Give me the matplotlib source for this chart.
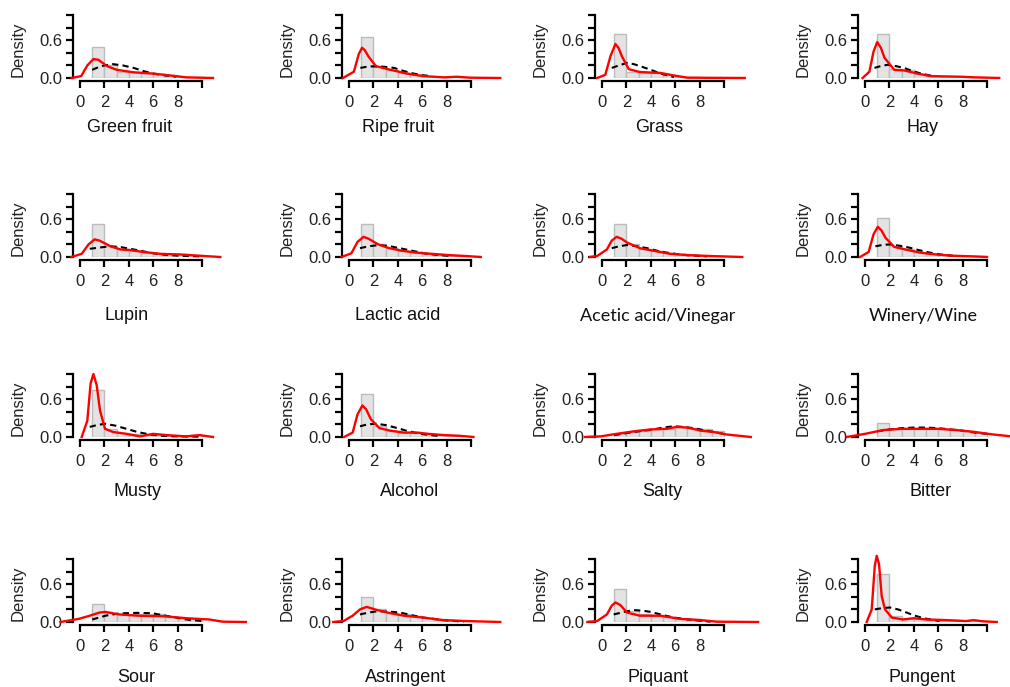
import numpy as np
import matplotlib
matplotlib.use("Agg")
import matplotlib.pyplot as plt

plt.rcParams['font.family'] = ['Liberation Sans', 'DejaVu Sans']

# panel order: row by row
names = ["Green fruit", "Ripe fruit", "Grass", "Hay",
         "Lupin", "Lactic acid", "Acetic acid/Vinegar", "Winery/Wine",
         "Musty", "Alcohol", "Salty", "Bitter",
         "Sour", "Astringent", "Piquant", "Pungent"]

# histogram bin edges (score 1..10) and heights per panel
bin_edges = [1, 2, 3, 4, 5, 6, 7, 8, 9, 10]
hist_h = [
    [0.49, 0.20, 0.10, 0.09, 0.08, 0.06, 0.04, 0.02, 0.01],
    [0.65, 0.18, 0.12, 0.08, 0.05, 0.03, 0.02, 0.01, 0.02],
    [0.70, 0.10, 0.08, 0.08, 0.04, 0.02, 0.01, 0.005, 0.0],
    [0.70, 0.15, 0.12, 0.06, 0.03, 0.02, 0.02, 0.02, 0.01],
    [0.53, 0.17, 0.12, 0.10, 0.07, 0.05, 0.04, 0.04, 0.03],
    [0.53, 0.20, 0.14, 0.10, 0.07, 0.05, 0.03, 0.02, 0.01],
    [0.53, 0.20, 0.13, 0.10, 0.07, 0.04, 0.03, 0.02, 0.01],
    [0.62, 0.17, 0.12, 0.08, 0.05, 0.03, 0.02, 0.01, 0.01],
    [0.75, 0.12, 0.06, 0.04, 0.03, 0.03, 0.02, 0.02, 0.03],
    [0.68, 0.18, 0.10, 0.07, 0.06, 0.05, 0.03, 0.02, 0.01],
    [0.05, 0.08, 0.10, 0.12, 0.13, 0.16, 0.14, 0.12, 0.10],
    [0.22, 0.12, 0.12, 0.13, 0.13, 0.12, 0.11, 0.09, 0.07],
    [0.29, 0.14, 0.12, 0.12, 0.12, 0.12, 0.08, 0.06, 0.04],
    [0.40, 0.20, 0.15, 0.12, 0.10, 0.07, 0.05, 0.03, 0.02],
    [0.52, 0.18, 0.12, 0.10, 0.08, 0.05, 0.04, 0.02, 0.01],
    [0.76, 0.10, 0.05, 0.05, 0.03, 0.02, 0.02, 0.01, 0.02],
]

# kernel density (red)
kde_x = [
    [-0.7, 0.1, 0.6, 1.1, 1.5, 2.2, 3.0, 4.4, 6.0, 7.4, 8.7, 10.9],
    [-0.5, 0.4, 0.8, 1.07, 1.3, 1.6, 2.2, 3.4, 4.75, 6.1, 7.8, 8.85, 9.9, 12.4],
    [-0.4, 0.27, 0.7, 1.1, 1.35, 1.64, 2.2, 3.1, 4.8, 5.9, 7.0, 11.7],
    [-0.2, 0.36, 0.7, 1.0, 1.3, 1.6, 2.4, 3.2, 4.3, 5.4, 7.9, 9.0, 11.0],
    [-0.7, 0.14, 0.7, 1.2, 1.6, 2.5, 3.3, 4.1, 5.2, 6.6, 8.2, 9.8, 11.5],
    [-0.6, 0.2, 0.7, 1.2, 1.6, 2.4, 3.3, 4.3, 5.5, 6.8, 8.2, 9.6, 10.8],
    [-1.0, -0.4, 0.4, 0.8, 1.2, 1.6, 2.05, 3.1, 4.2, 5.6, 7.0, 8.9, 11.5],
    [-0.4, 0.3, 0.7, 1.05, 1.35, 1.7, 2.4, 3.3, 4.5, 5.8, 7.2, 8.8, 10.0],
    [0.14, 0.6, 0.87, 1.1, 1.37, 1.64, 2.05, 2.7, 3.8, 4.9, 6.0, 7.1, 8.7, 9.8, 10.9],
    [-0.4, 0.3, 0.7, 1.1, 1.4, 1.8, 2.5, 3.4, 4.5, 5.6, 6.5, 7.8, 9.0, 10.2],
    [-1.4, -0.1, 1.2, 2.6, 4.0, 5.3, 6.1, 7.0, 8.1, 9.15, 10.2, 12.2],
    [-1.5, 0.0, 1.5, 3.0, 4.5, 6.0, 7.5, 9.0, 10.5, 12.0],
    [-1.6, -0.1, 0.8, 1.6, 2.1, 3.2, 4.8, 7.0, 8.7, 10.6, 11.7, 13.6],
    [-1.3, -0.45, 0.3, 0.9, 1.45, 2.3, 3.4, 4.5, 6.1, 7.7, 9.6, 12.4],
    [-1.2, -0.4, 0.4, 0.8, 1.1, 1.5, 2.05, 3.1, 4.8, 6.4, 8.1, 9.4, 12.8],
    [0.14, 0.55, 0.8, 0.96, 1.15, 1.37, 1.64, 2.2, 3.1, 4.0, 5.05, 6.7, 8.3, 8.9, 9.7, 10.8],
]
kde_y = [
    [0, 0.03, 0.20, 0.30, 0.29, 0.19, 0.13, 0.09, 0.07, 0.04, 0.01, 0],
    [0, 0.10, 0.38, 0.48, 0.44, 0.34, 0.19, 0.13, 0.07, 0.03, 0.01, 0.02, 0.005, 0],
    [0, 0.05, 0.35, 0.54, 0.48, 0.34, 0.14, 0.095, 0.08, 0.04, 0.005, 0],
    [0, 0.10, 0.42, 0.57, 0.48, 0.32, 0.13, 0.12, 0.07, 0.03, 0.02, 0.01, 0],
    [0, 0.05, 0.20, 0.28, 0.26, 0.17, 0.12, 0.11, 0.08, 0.05, 0.04, 0.02, 0],
    [0, 0.06, 0.24, 0.32, 0.29, 0.20, 0.14, 0.10, 0.07, 0.05, 0.03, 0.015, 0],
    [0, 0.015, 0.12, 0.26, 0.32, 0.29, 0.23, 0.14, 0.10, 0.05, 0.03, 0.015, 0],
    [0, 0.08, 0.36, 0.48, 0.42, 0.30, 0.16, 0.12, 0.07, 0.04, 0.02, 0.01, 0],
    [0, 0.26, 0.85, 1.00, 0.82, 0.42, 0.13, 0.08, 0.05, 0.01, 0.05, 0.03, 0.01, 0.03, 0],
    [0, 0.07, 0.36, 0.50, 0.44, 0.28, 0.14, 0.10, 0.07, 0.07, 0.05, 0.03, 0.02, 0],
    [0, 0.01, 0.05, 0.09, 0.12, 0.13, 0.16, 0.15, 0.10, 0.08, 0.04, 0],
    [0, 0.05, 0.11, 0.13, 0.13, 0.13, 0.11, 0.08, 0.04, 0.01],
    [0, 0.05, 0.10, 0.15, 0.16, 0.12, 0.10, 0.09, 0.06, 0.04, 0.005, 0],
    [0, 0.015, 0.10, 0.20, 0.24, 0.19, 0.14, 0.10, 0.07, 0.03, 0.015, 0],
    [0, 0.015, 0.12, 0.26, 0.31, 0.27, 0.15, 0.10, 0.10, 0.05, 0.03, 0.005, 0],
    [0, 0.20, 0.89, 1.05, 0.92, 0.41, 0.20, 0.07, 0.04, 0.06, 0.04, 0.03, 0.015, 0.03, 0.01, 0],
]

# fitted distribution (black dashed)
fit_x = [
    [1.0, 1.5, 2.0, 2.7, 3.5, 4.4, 5.2, 6.0, 7.0, 7.9],
    [0.93, 1.5, 2.0, 2.8, 3.7, 4.5, 5.3, 6.0, 6.7],
    [0.8, 1.4, 2.05, 2.6, 3.1, 4.0, 4.8, 5.9],
    [0.77, 1.3, 1.86, 2.5, 3.2, 3.9, 4.6, 5.7],
    [0.8, 1.6, 2.5, 3.4, 4.4, 5.3, 6.3, 7.2, 8.2, 9.8],
    [0.9, 1.6, 2.5, 3.4, 4.4, 5.4, 6.4, 7.4, 8.4],
    [0.8, 1.4, 2.05, 2.9, 3.7, 4.5, 5.3, 6.2, 7.0, 8.6],
    [0.85, 1.4, 2.0, 2.8, 3.6, 4.4, 5.3, 6.2, 7.2],
    [0.8, 1.4, 2.05, 2.9, 3.8, 4.7, 5.7, 6.7, 7.7, 9.8],
    [0.9, 1.5, 2.2, 3.0, 3.8, 4.7, 5.6, 6.6, 7.6],
    [1.0, 1.8, 2.6, 3.4, 4.2, 5.0, 5.9, 6.7, 7.5, 8.3, 9.15, 10.2],
    [1.0, 2.0, 3.0, 4.0, 5.0, 6.0, 7.0, 8.0, 9.0, 10.0],
    [1.0, 2.1, 3.0, 3.7, 4.8, 5.9, 7.0, 7.9, 8.7, 10.0],
    [0.9, 1.6, 2.3, 3.2, 4.2, 5.1, 6.1, 7.7, 9.4],
    [0.96, 1.8, 2.6, 3.3, 4.0, 5.0, 5.9, 7.5, 8.9],
    [0.8, 1.4, 2.05, 2.7, 3.4, 4.1, 4.8, 6.1],
]
fit_y = [
    [0.13, 0.17, 0.20, 0.22, 0.20, 0.16, 0.11, 0.07, 0.04, 0.02],
    [0.16, 0.18, 0.185, 0.18, 0.16, 0.11, 0.07, 0.045, 0.03],
    [0.16, 0.20, 0.24, 0.22, 0.19, 0.13, 0.07, 0.015],
    [0.16, 0.19, 0.21, 0.19, 0.16, 0.11, 0.07, 0.025],
    [0.13, 0.15, 0.17, 0.155, 0.12, 0.085, 0.05, 0.03, 0.02, 0.01],
    [0.14, 0.17, 0.19, 0.17, 0.13, 0.09, 0.05, 0.03, 0.015],
    [0.14, 0.17, 0.19, 0.17, 0.14, 0.10, 0.07, 0.045, 0.03, 0.01],
    [0.17, 0.19, 0.20, 0.18, 0.15, 0.11, 0.07, 0.04, 0.02],
    [0.16, 0.19, 0.21, 0.18, 0.13, 0.08, 0.04, 0.02, 0.01, 0.005],
    [0.17, 0.20, 0.21, 0.19, 0.15, 0.10, 0.06, 0.03, 0.015],
    [0.03, 0.055, 0.08, 0.10, 0.12, 0.15, 0.17, 0.16, 0.14, 0.11, 0.08, 0.04],
    [0.09, 0.12, 0.14, 0.15, 0.15, 0.14, 0.12, 0.10, 0.07, 0.05],
    [0.04, 0.10, 0.13, 0.14, 0.145, 0.14, 0.10, 0.07, 0.04, 0.015],
    [0.12, 0.15, 0.17, 0.165, 0.15, 0.11, 0.07, 0.03, 0.005],
    [0.12, 0.16, 0.19, 0.18, 0.16, 0.11, 0.07, 0.03, 0.005],
    [0.20, 0.22, 0.23, 0.20, 0.15, 0.10, 0.06, 0.015],
]

y_ticks = [0, 0.2, 0.4, 0.6, 0.8, 1.0]
y_labels = ["0.0", "", "", "0.6", "", ""]
x_ticks = [0, 2, 4, 6, 8, 10]
x_labels = ["0", "2", "4", "6", "8", ""]

# layout (pixels)
W, H = 1010, 687
col_x0 = [80, 349, 602, 865]      # pixel of x = 0
row_y0 = [78, 257, 437, 622]      # pixel of y = 0
unit_x = 12.2
unit_y = 63.0
x_lo, x_hi = -0.55, 10.6
title_dx = [4.1, 4.0, 4.7, 4.75, 3.8, 4.0, 4.6, 4.8,
            4.75, 5.0, 4.9, 5.4, 4.6, 4.6, 4.6, 4.7]
title_dy = [50, 59, 55, 56]
calibri_like = {"Acetic acid/Vinegar", "Winery/Wine"}

fig = plt.figure(figsize=(W / 100, H / 100), dpi=100)

for i, name in enumerate(names):
    r, c = divmod(i, 4)
    left = col_x0[c] + x_lo * unit_x
    w = (x_hi - x_lo) * unit_x
    bottom = H - row_y0[r]
    ax = fig.add_axes([left / W, bottom / H, w / W, unit_y / H])
    ax.set_xlim(x_lo, x_hi)
    ax.set_ylim(0, 1.0)

    ax.bar(bin_edges[:-1], hist_h[i], width=1, align='edge',
           color='#e3e3e3', edgecolor='#bcbcbc', linewidth=1.0, zorder=1)
    ax.plot(fit_x[i], fit_y[i], color='black', lw=1.5, ls=(0, (3, 2)),
            clip_on=False, zorder=2)
    ax.plot(kde_x[i], kde_y[i], color='#ff0000', lw=1.7, clip_on=False,
            zorder=3)

    for s in ['top', 'right']:
        ax.spines[s].set_visible(False)
    ax.spines['left'].set_linewidth(1.6)
    ax.spines['bottom'].set_linewidth(1.6)
    ax.spines['bottom'].set_position(('outward', 2.5))
    ax.spines['bottom'].set_bounds(0, 10)

    ax.set_yticks(y_ticks)
    ax.set_yticklabels(y_labels)
    ax.set_xticks(x_ticks)
    ax.set_xticklabels(x_labels)
    ax.tick_params(axis='both', length=5, width=1.6, color='black',
                   labelsize=12, labelcolor='#222222')
    ax.tick_params(axis='y', pad=3)
    ax.tick_params(axis='x', pad=5)

    ax.set_ylabel("Density", fontsize=12, color='#222222')
    ax.yaxis.set_label_coords(-48 / w, 0.45)

    fam = ['Lato', 'DejaVu Sans'] if name in calibri_like else ['Liberation Sans', 'DejaVu Sans']
    ax.text(title_dx[i], -title_dy[r] / unit_y, name, transform=ax.get_xaxis_transform(),
            ha='center', va='center', fontsize=13, color='#111111', family=fam)

fig.savefig("out.png", dpi=100)
